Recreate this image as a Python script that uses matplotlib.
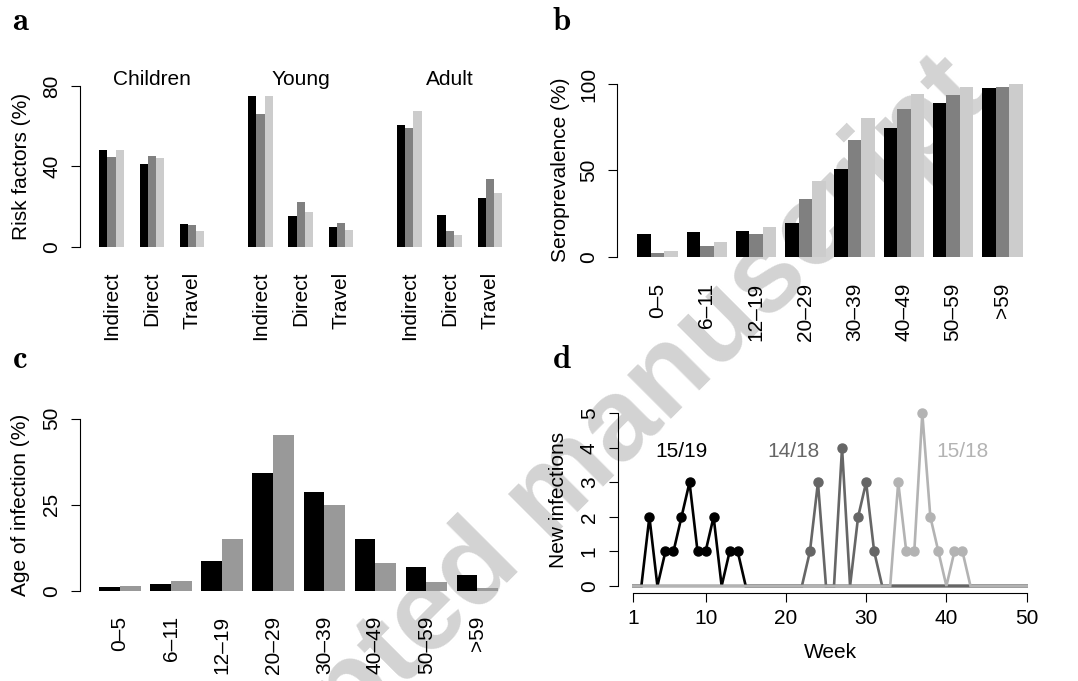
import numpy as np
import matplotlib
matplotlib.use("Agg")
import matplotlib.pyplot as plt
import matplotlib.transforms as mtransforms

plt.rcParams['font.family'] = ['Liberation Sans', 'DejaVu Sans']
plt.rcParams['mathtext.fontset'] = 'cm'
plt.rcParams['font.size'] = 15

# ---- data ----
# panel a: risk factors by age group
age_groups = ['Children', 'Young', 'Adult']
risk_labels = ['Indirect', 'Direct', 'Travel']
risk_black = [[48.0, 41.0, 11.6], [75.2, 15.4, 9.9], [60.7, 15.7, 24.1]]
risk_grey = [[44.5, 45.3, 10.7], [66.3, 22.5, 11.9], [59.3, 7.8, 33.6]]
risk_light = [[48.3, 44.1, 8.1], [74.9, 17.4, 8.3], [67.8, 6.1, 26.6]]

# panel b: seroprevalence by age band
age_bands = ['0\u20135', '6\u201311', '12\u201319', '20\u201329',
             '30\u201339', '40\u201349', '50\u201359', '>59']
sero_black = [13.1, 14.3, 14.9, 19.7, 50.8, 74.7, 89.2, 97.7]
sero_grey = [2.1, 6.2, 13.1, 33.4, 67.6, 85.7, 93.6, 98.3]
sero_light = [3.1, 8.5, 17.2, 43.8, 80.3, 94.2, 98.3, 100.0]

# panel c: age of infection
inf_black = [1.1, 2.0, 8.8, 34.2, 28.6, 15.0, 7.0, 4.6]
inf_grey = [1.5, 3.0, 15.2, 45.4, 24.9, 8.0, 2.5, 0.9]

# panel d: new infections per week
weeks = list(range(1, 51))
new_black = [0, 0, 2, 0, 1, 1, 2, 3, 1, 1, 2, 0, 1, 1, 0, 0, 0, 0, 0, 0,
             0, 0, 0, 0, 0, 0, 0, 0, 0, 0, 0, 0, 0, 0, 0, 0, 0, 0, 0, 0,
             0, 0, 0, 0, 0, 0, 0, 0, 0, 0]
new_grey = [0, 0, 0, 0, 0, 0, 0, 0, 0, 0, 0, 0, 0, 0, 0, 0, 0, 0, 0, 0,
            0, 0, 1, 3, 0, 0, 4, 0, 2, 3, 1, 0, 0, 0, 0, 0, 0, 0, 0, 0,
            0, 0, 0, 0, 0, 0, 0, 0, 0, 0]
new_light = [0, 0, 0, 0, 0, 0, 0, 0, 0, 0, 0, 0, 0, 0, 0, 0, 0, 0, 0, 0,
             0, 0, 0, 0, 0, 0, 0, 0, 0, 0, 0, 0, 0, 3, 1, 1, 5, 2, 1, 0,
             1, 1, 0, 0, 0, 0, 0, 0, 0, 0]
outbreak_text = ['15/19', '14/18', '15/18']
outbreak_week = [7, 21, 42]

W, H = 1078, 681
fig = plt.figure(figsize=(W / 100, H / 100), dpi=100)
# pixel transform, origin top-left
px = mtransforms.Affine2D().scale(1 / W, -1 / H).translate(0, 1) + fig.transFigure


def add_ax(left, top, right, bottom):
    ax = fig.add_axes([left / W, 1 - bottom / H, (right - left) / W, (bottom - top) / H])
    ax.patch.set_alpha(0)
    for s in ['top', 'right', 'bottom']:
        ax.spines[s].set_visible(False)
    ax.spines['left'].set_linewidth(0.8)
    ax.tick_params(axis='y', direction='out', length=6.5, width=0.8, pad=7.0,
                   labelrotation=90)
    ax.tick_params(axis='x', length=0, pad=18, labelrotation=90)
    return ax


def fix_ylabels(ax):
    for lab in ax.get_yticklabels():
        lab.set_va('center')


cols3 = ['black', '#808080', '#cccccc']

# ---- a ----
axa = add_ax(80, 86, 510, 247)
bw = 1.0
start_a, step_small, step_big = 2.35, 4.91, 18.16
tick_pos, tick_lab = [], []
for g in range(3):
    for r in range(3):
        x0 = start_a + g * step_big + r * step_small
        for k, vals in enumerate([risk_black, risk_grey, risk_light]):
            axa.bar(x0 + k * bw, vals[g][r], width=bw, align='edge',
                    color=cols3[k], linewidth=0)
        tick_pos.append(x0 + 1.5 * bw)
        tick_lab.append(risk_labels[r])
    axa.text(start_a + g * step_big + step_small + 1.5 * bw, 80.5, age_groups[g],
             ha='center', va='baseline')
axa.set_xlim(0, 430 / 8.2)
axa.set_ylim(0, 80)
axa.set_yticks([0, 40, 80])
axa.set_xticks(tick_pos, tick_lab)
axa.set_ylabel('Risk factors (%)')
axa.yaxis.set_label_coords(22, 166, transform=px)
axa.yaxis.label.set_va('center')
fix_ylabels(axa)

# ---- b ----
axb = add_ax(616.7, 84, 1040, 256.7)
bwb = 13.56
start_b, step_b = 20.6 / bwb, 49.24 / bwb
xb = np.arange(len(age_bands)) * step_b + start_b
for k, vals in enumerate([sero_black, sero_grey, sero_light]):
    axb.bar(xb + k, vals, width=1, align='edge', color=cols3[k], linewidth=0)
axb.set_xlim(0, (1040 - 616.7) / bwb)
axb.set_ylim(0, 100)
axb.set_yticks([0, 50, 100])
axb.set_xticks(xb + 1.5, age_bands)
axb.tick_params(axis='x', pad=19)
axb.set_ylabel('Seroprevalence (%)')
axb.yaxis.set_label_coords(561, 170, transform=px)
axb.yaxis.label.set_va('center')
fix_ylabels(axb)

# ---- c ----
axc = add_ax(80, 418.7, 510, 591)
bwc = 20.75
start_c, step_c = 19.3 / bwc, 51.06 / bwc
xc = np.arange(len(age_bands)) * step_c + start_c
axc.bar(xc, inf_black, width=1, align='edge', color='black', linewidth=0)
axc.bar(xc + 1, inf_grey, width=1, align='edge', color='#999999', linewidth=0)
axc.set_xlim(0, 430 / bwc)
axc.set_ylim(0, 50)
axc.set_yticks([0, 25, 50])
axc.set_xticks(xc + 1, age_bands)
axc.set_ylabel('Age of infection (%)')
axc.yaxis.set_label_coords(21, 505, transform=px)
axc.yaxis.label.set_va('center')
fix_ylabels(axc)

# ---- d ----
axd = add_ax(617.6, 406.4, 1042.4, 592.9)
axd.spines['bottom'].set_visible(True)
axd.spines['bottom'].set_linewidth(0.8)
lcols = ['black', '#666666', '#b3b3b3']
for series, c in zip([new_black, new_grey, new_light], lcols):
    wk = np.array(weeks)
    v = np.array(series)
    axd.plot(wk, v, color=c, lw=1.9, solid_joinstyle='miter', zorder=2)
    axd.plot(wk[v > 0], v[v > 0], 'o', color=c, ms=6.5, zorder=3)
for t, w, c in zip(outbreak_text, outbreak_week, lcols):
    axd.text(w, 3.9, t, color=c, ha='center', va='center')
axd.set_xlim(-0.96, 51.96)
axd.set_ylim(-0.2, 5.2)
axd.spines['left'].set_bounds(0, 5)
axd.spines['bottom'].set_bounds(1, 50)
axd.set_yticks(range(6))
axd.set_xticks([1, 10, 20, 30, 40, 50])
axd.tick_params(axis='x', length=6.5, width=0.8, pad=5, labelrotation=0)
axd.set_xlabel('Week')
axd.xaxis.set_label_coords(830, 652, transform=px)
axd.xaxis.label.set_va('center')
axd.set_ylabel('New infections')
axd.yaxis.set_label_coords(559, 499.6, transform=px)
axd.yaxis.label.set_va('center')
fix_ylabels(axd)

# panel letters
for lab, x, y in [('a', 12, 30), ('b', 552, 30), ('c', 12, 368), ('d', 552, 368)]:
    fig.text(x, y, r'$\mathbf{%s}$' % lab, transform=px, fontsize=23.5,
             ha='left', va='baseline')

# watermark
fig.text(551, 496, 'Accepted manuscript', transform=px, fontsize=84,
         fontweight='bold', color='#d3d3d3', rotation=45, ha='center',
         va='center', rotation_mode='anchor', zorder=-1)

fig.savefig('out.png', dpi=100)
